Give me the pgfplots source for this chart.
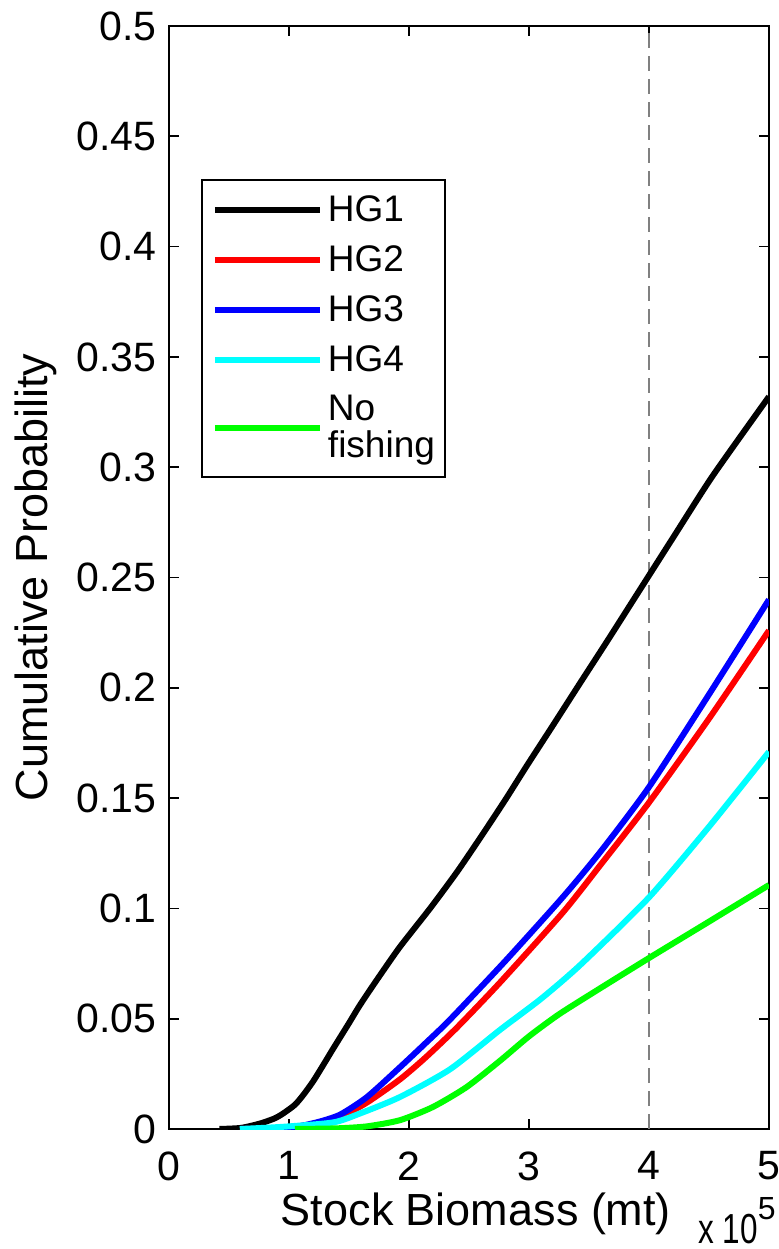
\documentclass[border=0pt]{standalone}
\usepackage{fontspec}
\setmainfont{Liberation Sans}
\usepackage{pgfplots}
\pgfplotsset{compat=1.18}

\definecolor{hgone}{rgb}{0,0,0}
\definecolor{hgtwo}{rgb}{1,0,0}
\definecolor{hgthree}{rgb}{0,0,1}
\definecolor{hgfour}{rgb}{0,1,1}
\definecolor{nofish}{rgb}{0,1,0}
\definecolor{refline}{rgb}{0.5,0.5,0.5}

\begin{document}
\begin{tikzpicture}
\begin{axis}[
  name=ax,
  scale only axis,
  width=300pt, height=551.5pt,
  xmin=0, xmax=5, ymin=0, ymax=0.5,
  xtick={0,1,2,3,4,5},
  xticklabels={0,1,2,3,4,5},
  ytick={0,0.05,0.1,0.15,0.2,0.25,0.3,0.35,0.4,0.45,0.5},
  yticklabels={0,0.05,0.1,0.15,0.2,0.25,0.3,0.35,0.4,0.45,0.5},
  scaled x ticks=false, scaled y ticks=false,
  /pgf/number format/assume math mode=true,
  tick align=inside, tick pos=both,
  major tick length=5pt,
  axis line style={line width=1pt},
  every tick/.style={black, line width=0.8pt},
  xticklabel style={font=\fontsize{20.5}{20.5}\selectfont, anchor=north, inner sep=0pt},
  xticklabel shift=11pt,
  yticklabel style={font=\fontsize{20.5}{20.5}\selectfont, anchor=east, inner sep=0pt},
  yticklabel shift=6pt,
  xlabel={Stock Biomass (mt)},
  ylabel={Cumulative Probability},
  xlabel style={font=\fontsize{22.5}{22.5}\selectfont, at={(axis description cs:0.5,0)}, anchor=base, inner sep=0pt, yshift=-48pt, xshift=3.5pt},
  ylabel style={font=\fontsize{22.5}{22.5}\selectfont, at={(axis description cs:-0.2225,0.5)}, anchor=center, inner sep=0pt},
  legend cell align=left,
  legend style={at={(axis description cs:0.0533,0.8613)}, anchor=north west,
    draw=black, line width=1pt, inner xsep=5pt, inner ysep=8pt,
    font=\fontsize{18.5}{18.5}\selectfont, row sep=10.5pt, column sep=2.5pt,
    nodes={inner sep=0pt}, cells={anchor=west, align=left}},
  legend image code/.code={\path (0pt,0pt) -- (7pt,0pt);
    \draw[#1, line width=3pt] (7pt,0pt) -- (52.5pt,0pt);},
  every axis plot/.append style={line width=3pt, line join=round},
]

% reference biomass level
\addplot[refline, line width=0.75pt, dash pattern=on 7.5pt off 4pt, forget plot]
  coordinates {(4,0) (4,0.5)};

\addplot[hgone, smooth, tension=0.4] coordinates {
  (0.42,0) (0.6,0.0005) (0.76,0.0025) (0.88,0.0048) (0.953,0.0071)
  (1.05,0.011) (1.12,0.0155) (1.2,0.0215) (1.28,0.0285) (1.369,0.0365)
  (1.5,0.048) (1.58,0.0552) (1.65,0.061) (1.76,0.0698) (1.925,0.0826)
  (2.18,0.1003) (2.4,0.1165) (2.6,0.1325) (2.8,0.149) (2.98,0.1645)
  (3.2,0.183) (3.43,0.2025) (3.65,0.221) (3.87,0.2398) (4.2,0.268)
  (4.53,0.296) (5,0.332)};
\addlegendentry{HG1}

\addplot[hgtwo, smooth, tension=0.4] coordinates {
  (0.6,0) (1.0,0.0005) (1.23,0.0025) (1.43,0.0055) (1.65,0.012)
  (1.925,0.0225) (2.14,0.0325) (2.4,0.046) (2.76,0.0665) (3.28,0.098)
  (3.6,0.12) (4,0.148) (4.5,0.186) (5,0.226)};
\addlegendentry{HG2}

\addplot[hgthree, smooth, tension=0.4] coordinates {
  (0.6,0) (1.0,0.0006) (1.23,0.003) (1.425,0.0065) (1.65,0.0145)
  (1.925,0.028) (2.14,0.039) (2.34,0.0495) (2.8,0.076) (3.28,0.105)
  (3.6,0.126) (4,0.155) (4.5,0.197) (5,0.240)};
\addlegendentry{HG3}

\addplot[hgfour, smooth, tension=0.4] coordinates {
  (0.59,0) (0.95,0.001) (1.37,0.003) (1.59,0.007) (1.925,0.0145)
  (2.34,0.027) (2.76,0.045) (3.1,0.059) (3.43,0.0745) (4,0.105)
  (4.5,0.137) (5,0.171)};
\addlegendentry{HG4}

\addplot[nofish, smooth, tension=0.4] coordinates {
  (1.05,0) (1.4,0.0003) (1.65,0.0012) (1.925,0.004) (2.2,0.010)
  (2.48,0.019) (2.76,0.031) (3.0,0.042) (3.25,0.052) (3.57,0.063)
  (4,0.0775) (4.5,0.094) (5,0.1106)};
\addlegendentry{No\\fishing}

\end{axis}

% power-of-ten factor for the x axis
\node[anchor=base west, inner sep=0pt] at ([xshift=-35.5pt,yshift=-57pt]ax.south east)
  {\scalebox{0.75}[1]{\fontsize{21}{21}\selectfont x 10}\raisebox{12pt}{\fontsize{16}{16}\selectfont 5}};

\pgfresetboundingbox
\path ([xshift=-84.5pt,yshift=-60pt]ax.south west) rectangle ([xshift=5pt,yshift=13pt]ax.north east);
\end{tikzpicture}
\end{document}
